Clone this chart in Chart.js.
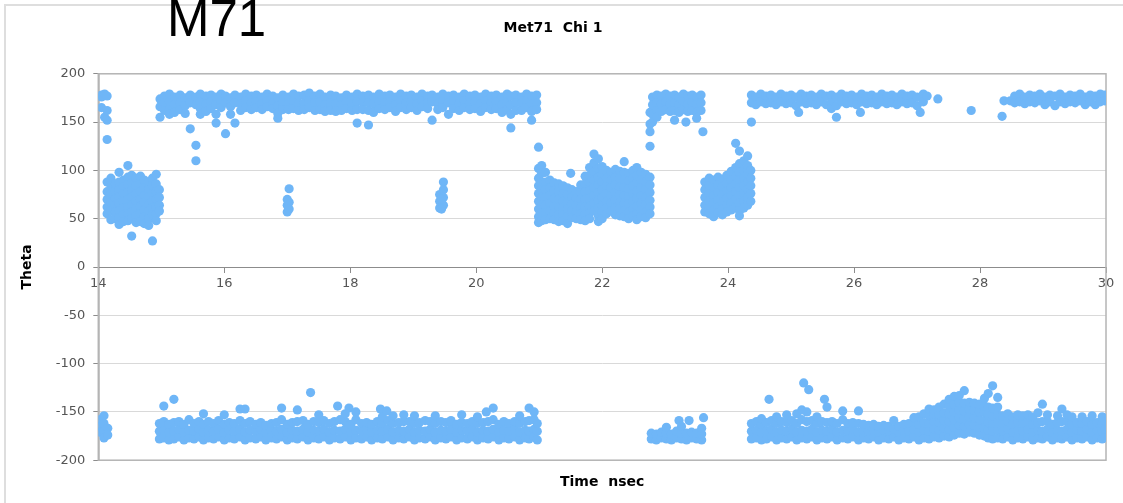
<!DOCTYPE html>
<html>
<head>
<meta charset="utf-8">
<title>Met71 Chi 1</title>
<script src="https://cdn.jsdelivr.net/npm/chart.js@4.4.0/dist/chart.umd.min.js"></script>
<style>
  html, body { margin: 0; padding: 0; background: #fff; overflow: hidden; }
  #wrap { position: relative; width: 1123px; height: 503px; }
  #frame { position: absolute; left: 4px; top: 4px; width: 1200px; height: 600px;
           border-left: 2px solid #dedede; border-top: 2px solid #dedede; }
  #tag { position: absolute; left: 167px; top: -7px; font-family: "Liberation Sans", Arial, sans-serif;
         font-size: 51px; line-height: 1; color: #000; }
  canvas { position: absolute; left: 0; top: 0; }
</style>
</head>
<body>
<div id="wrap">
  <div id="frame"></div>
  <div id="tag">M71</div>
  <canvas id="chi1" width="1123" height="503"></canvas>
</div>
<script>
// each column: [time (nsec), theta values seen at that time...]
const start14 = [
  [14.03, -158, -165, -171], [14.09, -154, -162, -170, -177], [14.15, -167, -174],
  [14.05, 178, 176, 165], [14.1, 179, 155], [14.14, 177, 162, 152, 132]
];

const stateA = [
  [14.14, 88, 78, 70, 62, 55],
  [14.2, 92, 84, 75, 67, 58, 49],
  [14.27, 86, 79, 71, 64, 57, 50],
  [14.33, 98, 88, 80, 73, 66, 58, 51, 44],
  [14.4, 90, 83, 76, 68, 61, 54, 47],
  [14.47, 105, 93, 85, 77, 70, 62, 55, 48],
  [14.53, 95, 87, 79, 72, 64, 57, 50, 32],
  [14.6, 92, 84, 76, 68, 60, 53, 46],
  [14.67, 94, 86, 78, 70, 63, 55, 47],
  [14.73, 90, 82, 74, 67, 59, 52, 45],
  [14.8, 88, 80, 73, 65, 58, 50, 43],
  [14.86, 92, 84, 76, 68, 61, 54, 27],
  [14.92, 96, 86, 78, 70, 62, 55, 48],
  [14.97, 80, 72, 64, 58]
];

const upperA = [
  [14.98, 174, 166, 155], [15.05, 177, 170, 162], [15.13, 179, 171, 163, 158],
  [15.21, 176, 168, 160], [15.3, 178, 170, 163], [15.38, 175, 167, 159],
  [15.46, 178, 170, 143], [15.55, 176, 168, 126, 110], [15.62, 179, 171, 164, 158],
  [15.71, 177, 169, 161], [15.79, 178, 171, 164], [15.87, 176, 168, 158, 149],
  [15.95, 179, 172, 165], [16.02, 177, 170, 138], [16.1, 175, 166, 158],
  [16.17, 178, 170, 149], [16.26, 176, 169, 162], [16.34, 179, 172, 165],
  [16.43, 177, 170, 163], [16.51, 178, 171, 165], [16.6, 176, 169, 163],
  [16.68, 179, 172, 166], [16.77, 177, 170, 164], [16.85, 175, 167, 159, 154],
  [16.93, 178, 170, 163], [17.02, 176, 169, 163], [17.1, 179, 171, 164],
  [17.18, 177, 169, 162], [17.27, 178, 170, 163], [17.35, 180, 172, 165],
  [17.44, 177, 170, 162], [17.52, 179, 171, 163], [17.6, 176, 168, 161],
  [17.69, 178, 170, 162], [17.77, 177, 169, 161], [17.86, 175, 168, 162],
  [17.94, 178, 171, 164], [18.03, 176, 169, 162], [18.11, 179, 171, 163, 149],
  [18.2, 177, 170, 163], [18.29, 178, 170, 162, 147], [18.37, 176, 169, 160],
  [18.46, 179, 171, 164], [18.55, 177, 170, 163], [18.63, 178, 171, 165],
  [18.72, 176, 168, 161], [18.8, 179, 172, 165], [18.89, 177, 170, 163],
  [18.97, 178, 171, 165], [19.06, 176, 169, 162], [19.14, 179, 172, 166],
  [19.23, 177, 170, 164], [19.3, 178, 171, 152], [19.39, 176, 169, 163],
  [19.47, 179, 172, 165], [19.56, 177, 170, 158], [19.64, 178, 171, 164],
  [19.73, 176, 169, 162], [19.81, 179, 172, 165], [19.9, 177, 170, 163],
  [19.98, 178, 171, 164], [20.07, 176, 169, 161], [20.15, 179, 172, 165],
  [20.24, 177, 170, 163], [20.32, 178, 171, 164], [20.41, 176, 168, 160],
  [20.49, 179, 171, 163], [20.55, 177, 168, 158, 144], [20.63, 178, 170, 162],
  [20.72, 176, 169, 162], [20.8, 179, 172, 165], [20.88, 177, 169, 161, 152],
  [20.96, 178, 170, 163]
];

const blip17 = [[17.0, 70, 64, 57], [17.03, 81, 67, 60]];
const blip19 = [[19.42, 75, 68, 61], [19.48, 88, 80, 72, 64], [19.45, 70, 60]];

const lowerA = [
  [14.97, -178, -170, -162], [15.04, -177, -169, -160, -144], [15.12, -179, -171, -163],
  [15.2, -178, -170, -161, -137], [15.28, -176, -168, -160], [15.36, -179, -171, -163],
  [15.44, -177, -169, -158], [15.52, -178, -170, -162], [15.6, -176, -168, -160],
  [15.67, -179, -171, -163, -152], [15.75, -177, -169, -160], [15.83, -178, -170, -162],
  [15.91, -176, -168, -159], [16.0, -179, -171, -163, -153], [16.08, -177, -169, -161],
  [16.16, -178, -170, -162], [16.25, -176, -168, -159, -147], [16.33, -179, -171, -162, -147],
  [16.41, -177, -169, -160], [16.5, -178, -170, -163], [16.58, -176, -168, -161],
  [16.66, -179, -171, -164], [16.75, -177, -169, -162], [16.83, -178, -170, -161],
  [16.91, -176, -168, -158, -146], [17.0, -179, -171, -163], [17.08, -177, -169, -161],
  [17.16, -178, -170, -160, -148], [17.25, -176, -168, -159], [17.33, -179, -171, -163],
  [17.37, -130], [17.42, -177, -169, -160], [17.5, -178, -170, -161, -153],
  [17.58, -176, -168, -159], [17.67, -179, -171, -162], [17.75, -177, -169, -160],
  [17.8, -144], [17.84, -178, -170, -158], [17.92, -176, -168, -160, -152],
  [17.98, -146], [18.01, -179, -171, -163], [18.09, -177, -169, -158, -150],
  [18.18, -178, -170, -162], [18.26, -176, -168, -161], [18.34, -179, -171, -163],
  [18.43, -177, -169, -160], [18.48, -147], [18.51, -178, -170, -162, -155],
  [18.58, -149], [18.6, -176, -168, -159], [18.68, -179, -171, -162, -154],
  [18.77, -177, -169, -161], [18.85, -178, -170, -160, -153], [18.94, -176, -168, -160],
  [19.02, -179, -171, -162, -154], [19.1, -177, -169, -161], [19.19, -178, -170, -159],
  [19.27, -176, -168, -160], [19.35, -179, -171, -162, -154], [19.44, -177, -169, -160],
  [19.52, -178, -170, -161], [19.6, -176, -168, -159], [19.69, -179, -171, -163],
  [19.77, -177, -169, -161, -153], [19.86, -178, -170, -162], [19.94, -176, -168, -160],
  [20.02, -179, -171, -162, -155], [20.11, -177, -169, -161], [20.16, -150],
  [20.19, -178, -170, -160], [20.27, -176, -168, -158, -146], [20.36, -179, -171, -163],
  [20.44, -177, -169, -160], [20.52, -178, -170, -162], [20.61, -176, -168, -160],
  [20.69, -179, -171, -162, -154], [20.78, -177, -169, -160], [20.84, -178, -170, -159, -146],
  [20.92, -176, -168, -158, -150], [20.97, -179, -170, -162]
];

const stateB = [
  [20.99, 124, 102, 92, 84, 76, 68, 60, 52, 46],
  [21.04, 105, 97, 88, 80, 72, 64, 56, 48],
  [21.1, 98, 88, 80, 72, 64, 56, 49],
  [21.17, 90, 82, 74, 66, 58, 50],
  [21.24, 87, 79, 71, 63, 56, 49],
  [21.31, 86, 78, 70, 62, 54, 47],
  [21.38, 84, 76, 68, 61, 54, 48],
  [21.45, 82, 75, 67, 60, 52, 45],
  [21.5, 97],
  [21.52, 80, 72, 65, 58, 51],
  [21.59, 78, 71, 64, 57, 50],
  [21.66, 85, 77, 70, 62, 55, 49],
  [21.73, 94, 86, 78, 70, 62, 55, 48],
  [21.8, 103, 95, 87, 79, 71, 63, 56, 50],
  [21.87, 117, 108, 98, 90, 82, 74, 66, 58],
  [21.94, 112, 102, 93, 85, 77, 69, 61, 53, 47],
  [22.0, 104, 96, 88, 80, 72, 64, 57, 50],
  [22.07, 100, 92, 84, 76, 68, 61, 55],
  [22.14, 98, 90, 82, 74, 66, 58],
  [22.21, 101, 93, 85, 77, 69, 61, 54],
  [22.28, 99, 91, 83, 75, 67, 60, 53],
  [22.35, 109, 98, 90, 82, 74, 66, 58, 52],
  [22.42, 97, 89, 81, 73, 65, 57, 50],
  [22.49, 100, 92, 84, 76, 68, 60, 53],
  [22.55, 103, 95, 87, 79, 71, 63, 55, 49],
  [22.62, 98, 90, 82, 74, 66, 59, 52],
  [22.69, 96, 88, 80, 72, 64, 57, 51],
  [22.76, 93, 85, 77, 69, 62, 55]
];

const upperB = [
  [22.76, 160, 148, 140, 125], [22.8, 176, 168, 158, 150], [22.87, 178, 170, 162, 155],
  [22.94, 177, 169, 161], [23.01, 179, 171, 163], [23.08, 177, 169, 161],
  [23.15, 178, 170, 162, 152], [23.22, 176, 168, 160], [23.29, 179, 171, 163],
  [23.33, 150], [23.36, 177, 169, 161], [23.43, 178, 170, 162],
  [23.5, 176, 168, 160, 154], [23.57, 178, 170, 162], [23.6, 140]
];

const lowerB = [
  [22.78, -178, -172], [22.86, -179, -173], [22.94, -177, -171], [23.02, -178, -172, -166],
  [23.1, -179, -173], [23.18, -177, -170], [23.22, -159], [23.26, -178, -172, -165],
  [23.34, -179, -172], [23.38, -159], [23.42, -177, -171], [23.5, -178, -172],
  [23.58, -179, -173, -167], [23.61, -156]
];

const stateC = [
  [23.63, 88, 80, 72, 64, 57],
  [23.7, 92, 84, 76, 68, 61, 55],
  [23.77, 90, 82, 74, 66, 59, 52],
  [23.84, 93, 85, 77, 69, 62, 56],
  [23.91, 91, 83, 75, 67, 60, 54],
  [23.98, 95, 87, 79, 71, 64, 57],
  [24.05, 99, 90, 82, 74, 66, 59],
  [24.12, 128, 103, 94, 86, 78, 70, 62],
  [24.18, 120, 107, 98, 90, 82, 74, 66, 58, 53],
  [24.25, 110, 100, 92, 84, 76, 68, 61],
  [24.31, 115, 105, 96, 88, 80, 72, 64],
  [24.36, 100, 92, 84, 76, 68]
];

const upperC = [
  [24.37, 178, 170, 150], [24.44, 176, 168], [24.52, 179, 171], [24.6, 177, 169],
  [24.68, 178, 170], [24.76, 176, 168], [24.84, 179, 171], [24.92, 177, 169],
  [25.0, 178, 170], [25.08, 176, 167], [25.12, 160], [25.16, 179, 171],
  [25.24, 177, 169], [25.32, 178, 170], [25.4, 176, 168], [25.48, 179, 171],
  [25.56, 177, 168], [25.64, 178, 170, 164], [25.72, 176, 167, 155], [25.8, 179, 171],
  [25.88, 177, 169], [25.96, 178, 170], [26.04, 176, 168], [26.1, 160],
  [26.12, 179, 171], [26.2, 177, 169], [26.28, 178, 170], [26.36, 176, 168],
  [26.44, 179, 171], [26.52, 177, 169], [26.6, 178, 170], [26.68, 176, 168],
  [26.76, 179, 171], [26.84, 177, 169], [26.92, 178, 170], [27.0, 176, 167],
  [27.05, 160], [27.1, 179, 171], [27.16, 177],
  [27.33, 174], [27.86, 162], [28.35, 156], [28.38, 172]
];

const upperD = [
  [28.48, 172], [28.55, 177, 170], [28.63, 179, 171], [28.71, 176, 169],
  [28.79, 178, 171], [28.87, 177, 170], [28.95, 179, 172], [29.03, 176, 168],
  [29.11, 178, 171], [29.19, 177, 167], [29.27, 179, 171], [29.35, 176, 169],
  [29.43, 178, 171], [29.51, 177, 170], [29.59, 179, 172], [29.67, 176, 168],
  [29.75, 178, 171], [29.83, 177, 168], [29.91, 179, 171], [29.98, 178, 172]
];

const lowerC = [
  [24.37, -178, -170, -162], [24.45, -177, -169, -160], [24.53, -179, -171, -163, -157],
  [24.61, -178, -170, -161], [24.65, -137], [24.69, -176, -168, -159],
  [24.77, -179, -171, -162, -155], [24.85, -177, -169, -160], [24.93, -178, -170, -161, -153],
  [25.01, -176, -168, -159], [25.09, -179, -171, -162, -152], [25.17, -177, -169, -158, -148],
  [25.2, -120], [25.25, -178, -170, -160, -150], [25.28, -127],
  [25.33, -176, -168, -159], [25.41, -179, -171, -162, -155], [25.49, -177, -169, -160],
  [25.53, -137], [25.57, -178, -170, -161, -145], [25.65, -176, -168, -160],
  [25.73, -179, -171, -162], [25.82, -177, -169, -158, -149], [25.9, -178, -170, -162],
  [25.98, -176, -168, -161], [26.07, -179, -171, -162, -149], [26.15, -177, -169, -163],
  [26.23, -178, -170, -164], [26.31, -176, -168, -163], [26.39, -179, -171, -165],
  [26.47, -177, -169, -164], [26.55, -178, -170, -165], [26.63, -176, -168, -159],
  [26.71, -179, -171, -165], [26.79, -177, -169, -163], [26.87, -178, -170, -162],
  [26.95, -176, -168, -160, -156], [27.03, -179, -171, -163, -155],
  [27.11, -177, -169, -161, -152], [27.19, -178, -170, -162, -154, -147],
  [27.27, -176, -168, -160, -152, -148], [27.35, -177, -169, -161, -153, -145],
  [27.43, -175, -167, -159, -151, -142], [27.51, -176, -168, -160, -152, -144, -137],
  [27.59, -174, -166, -158, -150, -142, -134], [27.67, -172, -164, -156, -148, -140, -133],
  [27.75, -173, -165, -157, -149, -141, -128], [27.83, -171, -163, -155, -147, -140],
  [27.91, -172, -164, -156, -148, -141], [27.99, -174, -166, -158, -150, -142],
  [28.07, -175, -167, -159, -151, -144, -136], [28.13, -177, -169, -161, -153, -145, -131],
  [28.2, -178, -170, -162, -154, -146, -123], [28.28, -177, -169, -161, -153, -145, -135],
  [28.36, -178, -170, -162, -154], [28.44, -176, -168, -160, -152],
  [28.52, -179, -171, -163, -155], [28.6, -177, -169, -161, -153],
  [28.68, -178, -170, -162, -154], [28.76, -176, -168, -160, -153],
  [28.84, -179, -171, -163, -155], [28.92, -177, -169, -161, -151],
  [28.99, -178, -170, -160, -142], [29.07, -176, -168, -160, -153],
  [29.15, -179, -171, -163], [29.23, -177, -169, -161, -154],
  [29.3, -178, -170, -160, -147], [29.38, -176, -168, -160, -153],
  [29.46, -179, -171, -163, -155], [29.54, -177, -169, -161],
  [29.62, -178, -170, -162, -155], [29.7, -176, -168, -160],
  [29.78, -179, -171, -163, -154], [29.86, -177, -169, -161],
  [29.94, -178, -170, -162, -155], [29.99, -176, -168, -160]
];

const xTicks = { min: 14, max: 30, step: 2 };
const yTicks = { min: -200, max: 200, step: 50 };

function toPoints(cols) {
  return cols.flatMap(c => c.slice(1).map(v => ({ x: c[0], y: v })));
}

const allCols = [start14, stateA, upperA, blip17, blip19, lowerA, stateB,
                 upperB, lowerB, stateC, upperC, upperD, lowerC];
const points = allCols.flatMap(toPoints);

const tickFont = { family: 'DejaVu Sans', size: 13 };
const titleFont = { family: 'DejaVu Sans', size: 14, weight: 'bold' };

// grey box round the plot area, like the excel original
const plotBorder = {
  id: 'plotBorder',
  beforeDatasetsDraw(chart) {
    const { ctx, chartArea: a } = chart;
    ctx.save();
    ctx.strokeStyle = '#b4b4b4';
    ctx.lineWidth = 1.5;
    ctx.strokeRect(a.left, a.top, a.right - a.left, a.bottom - a.top);
    ctx.restore();
  }
};

new Chart(document.getElementById('chi1'), {
  type: 'scatter',
  data: {
    datasets: [{
      data: points,
      backgroundColor: '#6fb6f7',
      borderWidth: 0,
      pointRadius: 4.6,
      pointHoverRadius: 4.6
    }]
  },
  options: {
    responsive: false,
    animation: false,
    layout: { padding: { right: 17 } },
    plugins: {
      legend: { display: false },
      tooltip: { enabled: false },
      title: {
        display: true,
        text: 'Met71  Chi 1',
        color: '#000',
        font: titleFont,
        padding: { top: 20, bottom: 37 }
      }
    },
    scales: {
      x: {
        type: 'linear',
        position: { y: 0 },
        min: xTicks.min,
        max: xTicks.max,
        ticks: { stepSize: xTicks.step, color: '#555', font: tickFont, padding: 4 },
        grid: { drawOnChartArea: false, drawTicks: true, tickLength: 5, color: '#8c8c8c' },
        border: { color: '#8c8c8c', width: 1 }
      },
      xTitle: {
        type: 'linear',
        axis: 'x',
        position: 'bottom',
        min: xTicks.min,
        max: xTicks.max,
        ticks: { display: false },
        grid: { display: false, drawTicks: false },
        border: { display: false },
        title: {
          display: true,
          text: 'Time  nsec',
          color: '#000',
          font: titleFont,
          padding: { top: 14, bottom: 12 }
        }
      },
      y: {
        min: yTicks.min,
        max: yTicks.max,
        ticks: { stepSize: yTicks.step, color: '#555', font: tickFont, padding: 8 },
        grid: { color: '#d9d9d9', tickColor: '#8c8c8c', tickLength: 5 },
        border: { color: '#8c8c8c', width: 1.5 },
        title: {
          display: true,
          text: 'Theta',
          color: '#000',
          font: titleFont,
          padding: { top: 19, bottom: 12 }
        }
      }
    }
  },
  plugins: [plotBorder]
});
</script>
</body>
</html>
